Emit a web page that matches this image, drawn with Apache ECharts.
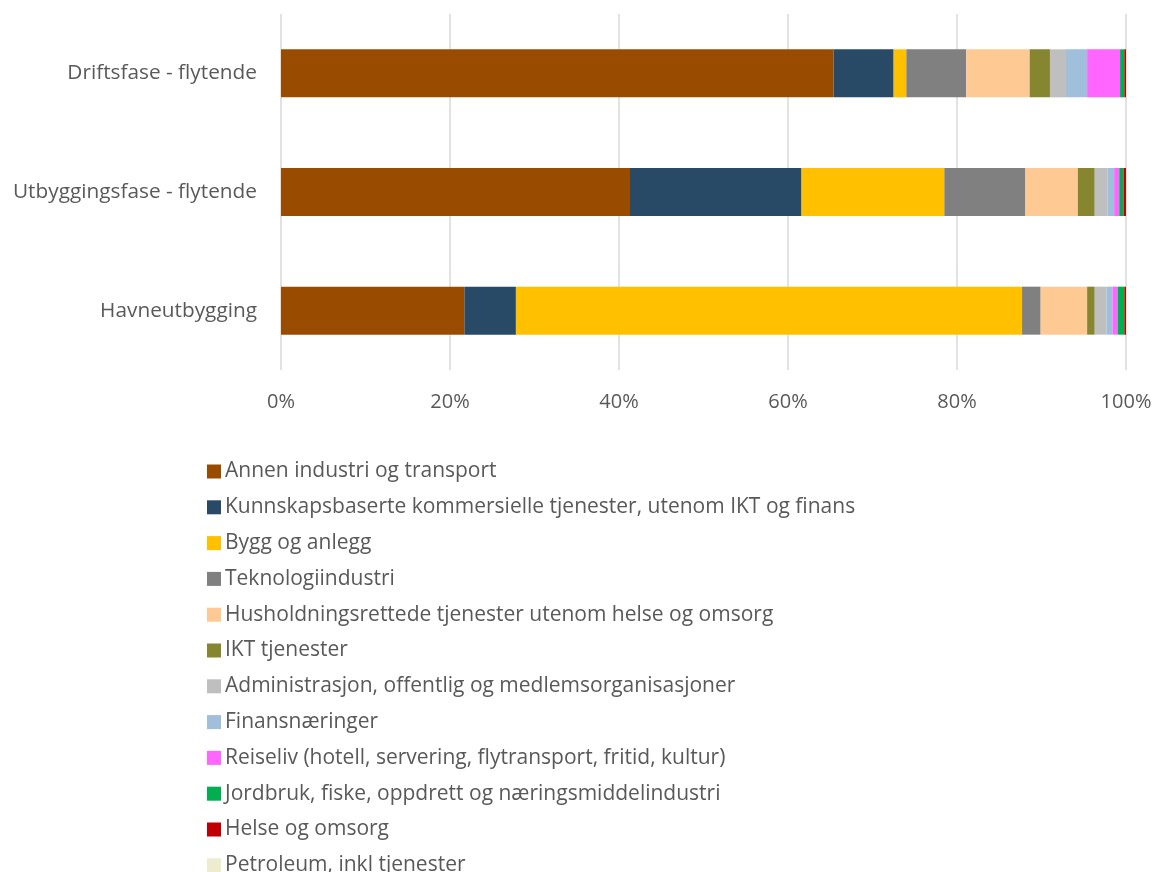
<!DOCTYPE html>
<html>
<head>
<meta charset="utf-8">
<script src="https://cdn.jsdelivr.net/npm/echarts@6/dist/echarts.min.js"></script>
<style>
  html, body { margin: 0; padding: 0; background: #fff; }
  #chart { width: 1155px; height: 872px; }
</style>
</head>
<body>
<div id="chart"></div>
<script>
// Project phases (top to bottom)
const categories = ['Driftsfase - flytende', 'Utbyggingsfase - flytende', 'Havneutbygging'];

// Industry names, in stacking order
const industries = [
  'Annen industri og transport',
  'Kunnskapsbaserte kommersielle tjenester, utenom IKT og finans',
  'Bygg og anlegg',
  'Teknologiindustri',
  'Husholdningsrettede tjenester utenom helse og omsorg',
  'IKT tjenester',
  'Administrasjon, offentlig og medlemsorganisasjoner',
  'Finansnæringer',
  'Reiseliv (hotell, servering, flytransport, fritid, kultur)',
  'Jordbruk, fiske, oppdrett og næringsmiddelindustri',
  'Helse og omsorg',
  'Petroleum, inkl tjenester'
];

// Share (%) per industry for each phase: [Driftsfase, Utbyggingsfase, Havneutbygging]
const annenIndustri   = [65.4, 41.3, 21.7];
const kunnskap        = [7.1, 20.3, 6.1];
const byggAnlegg      = [1.5, 16.9, 59.9];
const teknologi       = [7.1, 9.6, 2.2];
const husholdning     = [7.5, 6.2, 5.5];
const ikt             = [2.4, 2.0, 0.9];
const administrasjon  = [1.9, 1.5, 1.4];
const finans          = [2.5, 0.8, 0.7];
const reiseliv        = [3.9, 0.6, 0.6];
const jordbruk        = [0.5, 0.5, 0.8];
const helse           = [0.2, 0.3, 0.2];
const petroleum       = [0.0, 0.0, 0.0];

const seriesValues = [annenIndustri, kunnskap, byggAnlegg, teknologi, husholdning, ikt,
  administrasjon, finans, reiseliv, jordbruk, helse, petroleum];

const colors = ['#994C00', '#284A66', '#FFC000', '#808080', '#FFC993', '#868530',
  '#BFBFBF', '#9FBFDA', '#FF66FF', '#00B050', '#C00000', '#EEECCF'];

const xTicks = [0, 20, 40, 60, 80, 100];

const chart = echarts.init(document.getElementById('chart'), null, { renderer: 'canvas' });

const FONT = '"Open Sans", sans-serif';

chart.setOption({
  animation: false,
  color: colors,
  grid: { left: 281, right: 29, top: 14, bottom: 502, containLabel: false },
  xAxis: {
    type: 'value',
    min: xTicks[0],
    max: xTicks[xTicks.length - 1],
    interval: 20,
    axisLine: { show: false },
    axisTick: { show: false },
    splitLine: { lineStyle: { color: '#D9D9D9', width: 1.5 } },
    axisLabel: {
      formatter: v => v + '%',
      color: '#595959',
      fontFamily: FONT,
      fontSize: 20,
      margin: 22
    }
  },
  yAxis: {
    type: 'category',
    data: categories,
    inverse: true,
    axisLine: { show: false },
    axisTick: { show: false },
    axisLabel: {
      color: '#595959',
      fontFamily: FONT,
      fontSize: 20.8,
      margin: 24
    }
  },
  legend: {
    orient: 'vertical',
    left: 202,
    top: 456,
    height: 600,
    itemWidth: 14,
    itemHeight: 14,
    itemGap: 14.8,
    icon: 'rect',
    textStyle: {
      color: '#595959',
      fontFamily: FONT,
      fontSize: 21,
      lineHeight: 20,
      padding: [0, 0, 0, -1]
    },
    data: industries
  },
  series: industries.map((name, i) => ({
    name: name,
    type: 'bar',
    stack: 'total',
    barWidth: 48,
    data: seriesValues[i],
    itemStyle: { color: colors[i] }
  }))
});
</script>
</body>
</html>
